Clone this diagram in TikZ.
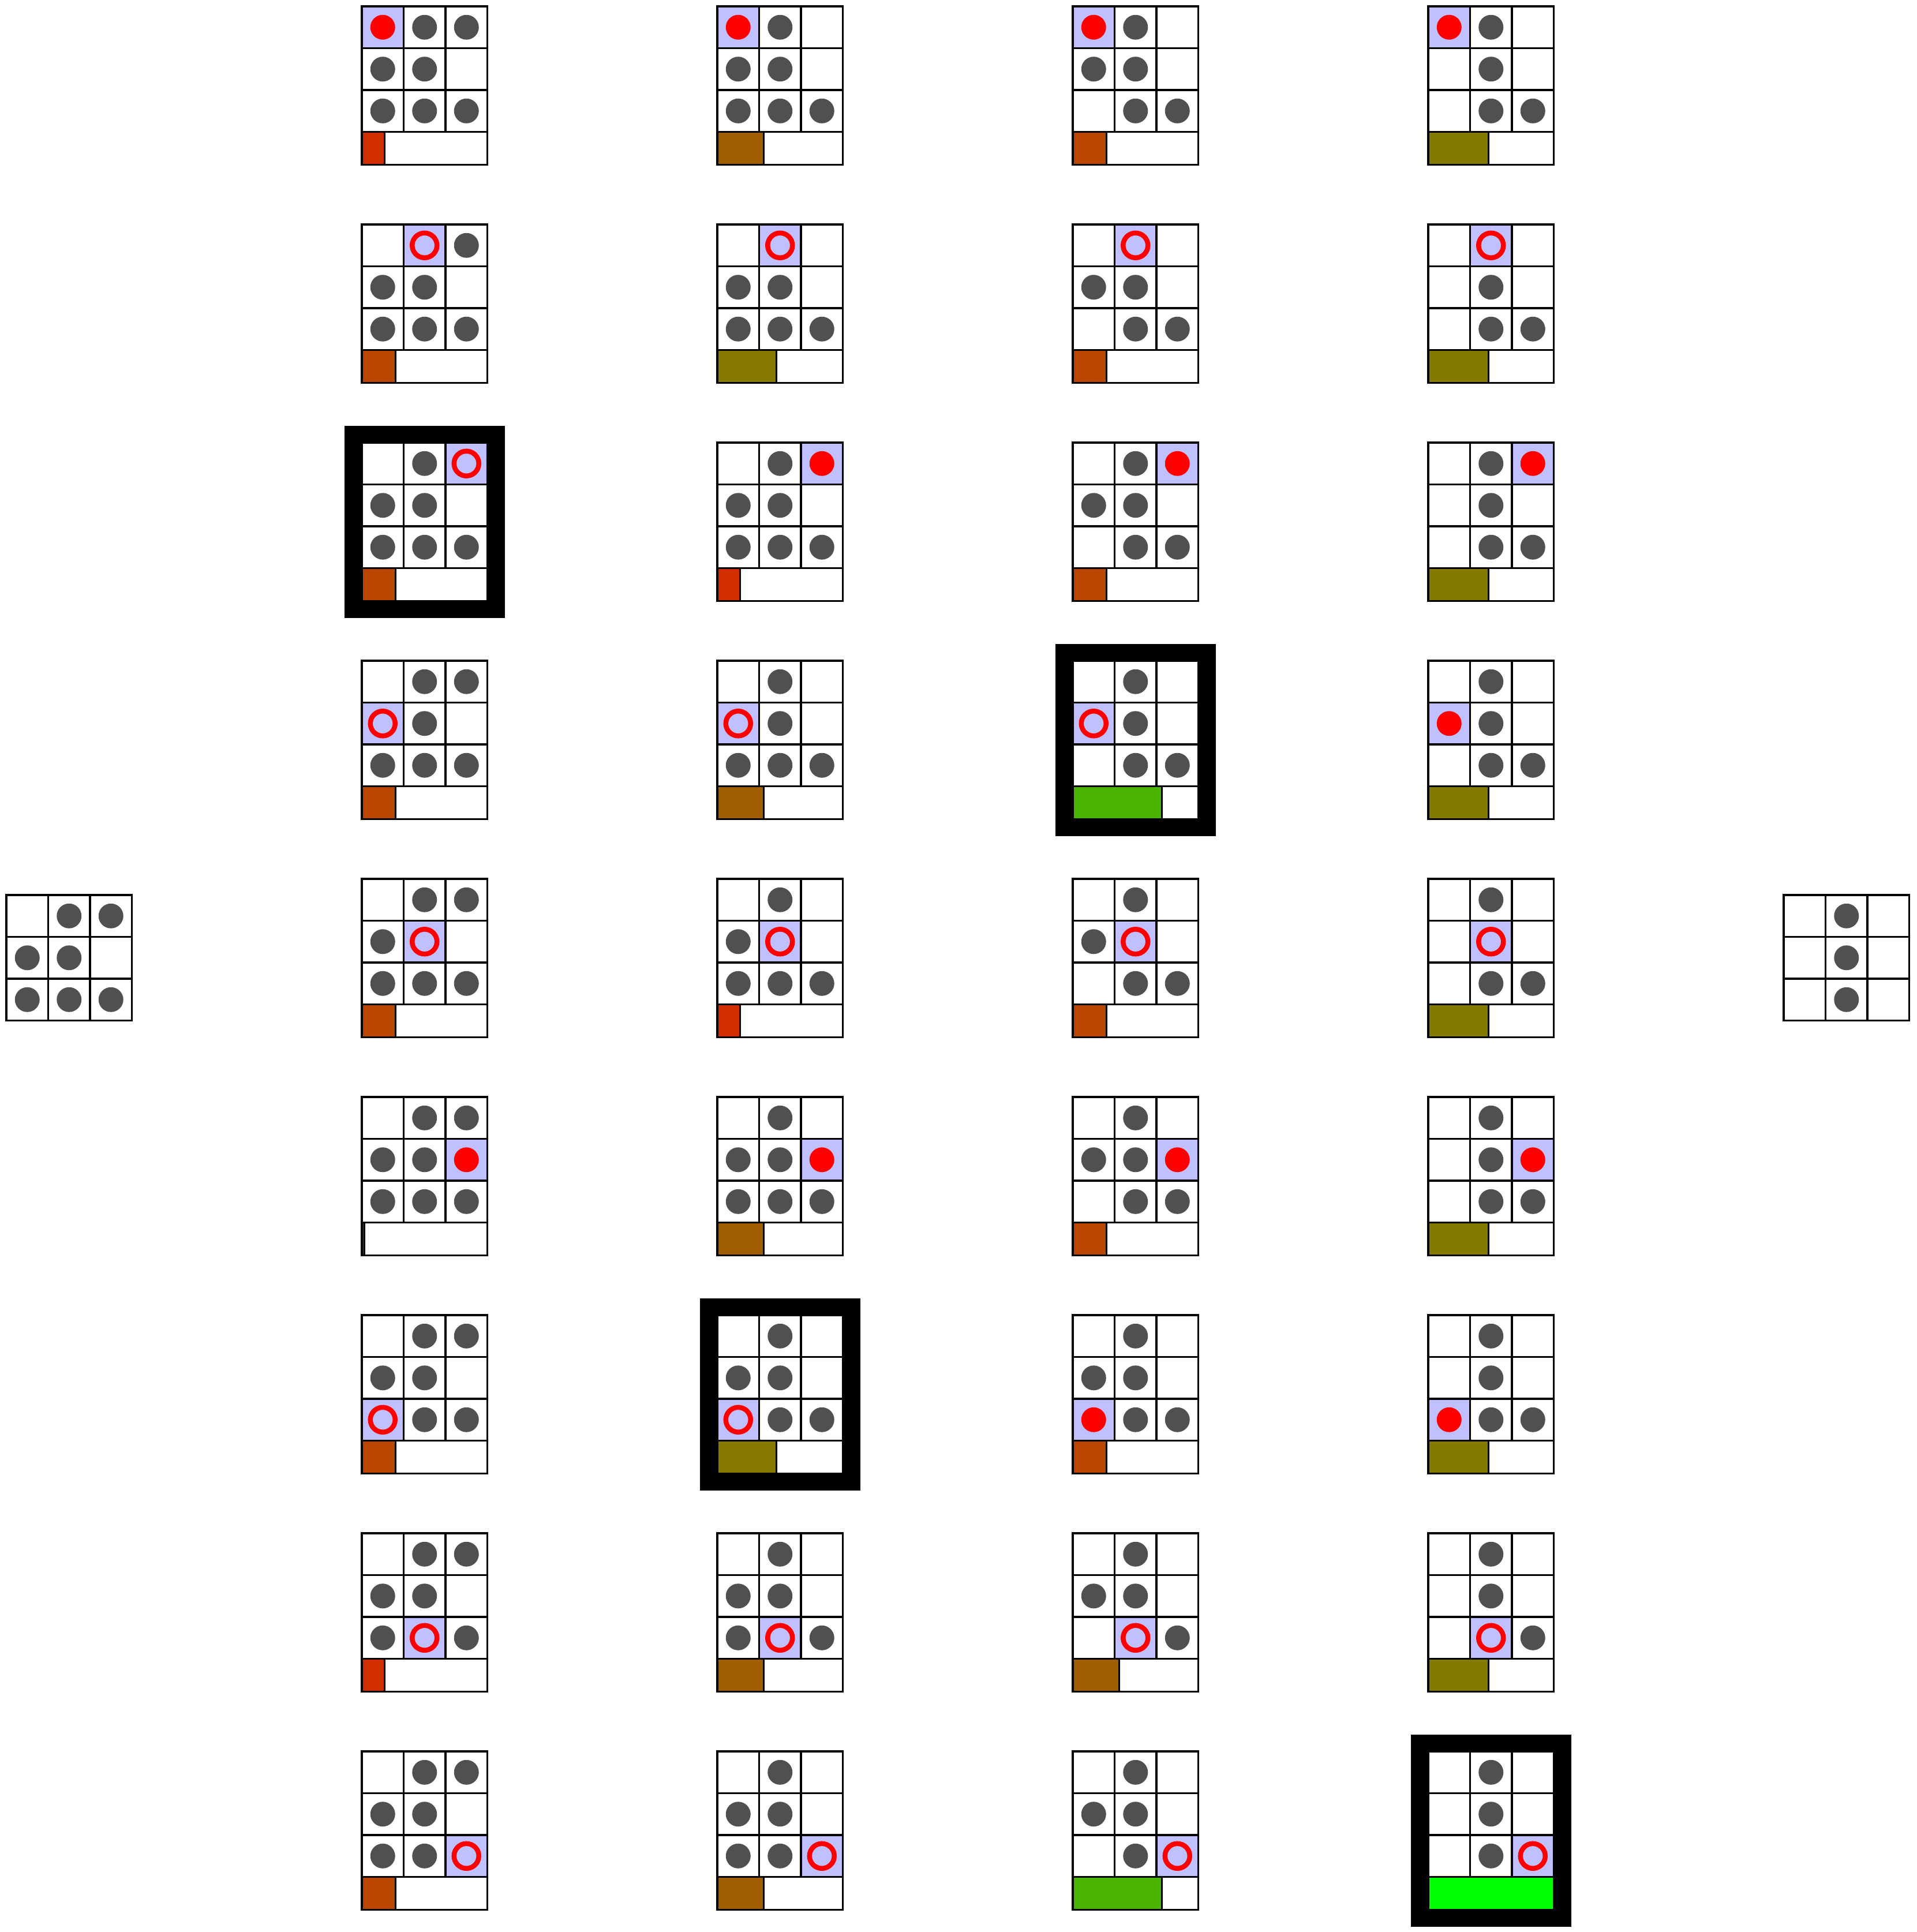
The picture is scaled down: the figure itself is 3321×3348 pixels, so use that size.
\documentclass[tikz,border=0pt]{standalone}
\usepackage{tikz}
\definecolor{stonegray}{HTML}{505050}
\definecolor{pickblue}{HTML}{C0C0FF}
\newcommand{\firstmove}{1/0,2/0,0/1,1/1,0/2,1/2,2/2}
\newcommand{\secondmove}{1/0,0/1,1/1,0/2,1/2,2/2}
\newcommand{\thirdmove}{1/0,0/1,1/1,1/2,2/2}
\newcommand{\fourthmove}{1/0,1/1,1/2,2/2}
\newcommand{\lastmove}{1/0,1/1,1/2}
% board: top left corner, stones, picked cell, mark, value in percent
\newcommand{\board}[6]{%
  \begin{scope}[shift={(#1,#2)},x=7.25mm,y=-7.25mm]
    \foreach \c/\r in #3 \fill[stone] (\c+0.5,\r+0.5) circle[radius=2.15mm];
    \fill[pick] (#4) rectangle ++(1,1);
    \path[#5] (#4) ++(0.5,0.5) circle[radius=2.15mm];
    \fill[green!#6!red] (0,3) rectangle (0.03*#6,3.79);
    \draw[boardline] (0,0) rectangle (3,3.79) (0,1) -- (3,1) (0,2) -- (3,2) (0,3) -- (3,3)
      (1,0) -- (1,3) (2,0) -- (2,3) (0.03*#6,3) -- (0.03*#6,3.79);
  \end{scope}}
% plain board: top left corner, stones
\newcommand{\plainboard}[3]{%
  \begin{scope}[shift={(#1,#2)},x=7.25mm,y=-7.25mm]
    \foreach \c/\r in #3 \fill[stone] (\c+0.5,\r+0.5) circle[radius=2.15mm];
    \draw[boardline] (0,0) rectangle (3,3) (0,1) -- (3,1) (0,2) -- (3,2)
      (1,0) -- (1,3) (2,0) -- (2,3);
  \end{scope}}

\begin{document}
\begin{tikzpicture}[x=0.1mm,y=-0.1mm,
  boardline/.style={draw=black,line width=0.33mm},
  stone/.style={fill=stonegray},
  pick/.style={fill=pickblue},
  placed/.style={fill=red},
  removed/.style={draw=red,line width=0.85mm},
  best/.style={draw=black,line width=3.1mm}]
  \useasboundingbox (0,0) rectangle (3321,3348);
  % start and end
  \plainboard{11}{1551}{\firstmove}
  \plainboard{3091}{1551}{\lastmove}
  % first move
  \board{627}{11}{\firstmove}{0,0}{placed}{18}
  \board{627}{389}{\firstmove}{1,0}{removed}{27}
  \board{627}{767}{\firstmove}{2,0}{removed}{27}
  \board{627}{1145}{\firstmove}{0,1}{removed}{27}
  \board{627}{1523}{\firstmove}{1,1}{removed}{27}
  \board{627}{1901}{\firstmove}{2,1}{placed}{2}
  \board{627}{2279}{\firstmove}{0,2}{removed}{27}
  \board{627}{2657}{\firstmove}{1,2}{removed}{18}
  \board{627}{3035}{\firstmove}{2,2}{removed}{27}
  % second move
  \board{1243}{11}{\secondmove}{0,0}{placed}{37}
  \board{1243}{389}{\secondmove}{1,0}{removed}{47}
  \board{1243}{767}{\secondmove}{2,0}{placed}{18}
  \board{1243}{1145}{\secondmove}{0,1}{removed}{37}
  \board{1243}{1523}{\secondmove}{1,1}{removed}{18}
  \board{1243}{1901}{\secondmove}{2,1}{placed}{37}
  \board{1243}{2279}{\secondmove}{0,2}{removed}{47}
  \board{1243}{2657}{\secondmove}{1,2}{removed}{37}
  \board{1243}{3035}{\secondmove}{2,2}{removed}{37}
  % third move
  \board{1859}{11}{\thirdmove}{0,0}{placed}{27}
  \board{1859}{389}{\thirdmove}{1,0}{removed}{27}
  \board{1859}{767}{\thirdmove}{2,0}{placed}{27}
  \board{1859}{1145}{\thirdmove}{0,1}{removed}{71}
  \board{1859}{1523}{\thirdmove}{1,1}{removed}{27}
  \board{1859}{1901}{\thirdmove}{2,1}{placed}{27}
  \board{1859}{2279}{\thirdmove}{0,2}{placed}{27}
  \board{1859}{2657}{\thirdmove}{1,2}{removed}{37}
  \board{1859}{3035}{\thirdmove}{2,2}{removed}{71}
  % fourth move
  \board{2475}{11}{\fourthmove}{0,0}{placed}{48}
  \board{2475}{389}{\fourthmove}{1,0}{removed}{48}
  \board{2475}{767}{\fourthmove}{2,0}{placed}{48}
  \board{2475}{1145}{\fourthmove}{0,1}{placed}{48}
  \board{2475}{1523}{\fourthmove}{1,1}{removed}{48}
  \board{2475}{1901}{\fourthmove}{2,1}{placed}{48}
  \board{2475}{2279}{\fourthmove}{0,2}{placed}{48}
  \board{2475}{2657}{\fourthmove}{1,2}{removed}{48}
  \board{2475}{3035}{\fourthmove}{2,2}{removed}{100}
  % chosen moves
  \draw[best] (627,767) ++(-15,-14) rectangle ++(247.5,302.5);
  \draw[best] (1243,2279) ++(-15,-14) rectangle ++(247.5,302.5);
  \draw[best] (1859,1145) ++(-15,-14) rectangle ++(247.5,302.5);
  \draw[best] (2475,3035) ++(-15,-14) rectangle ++(247.5,302.5);
\end{tikzpicture}
\end{document}
